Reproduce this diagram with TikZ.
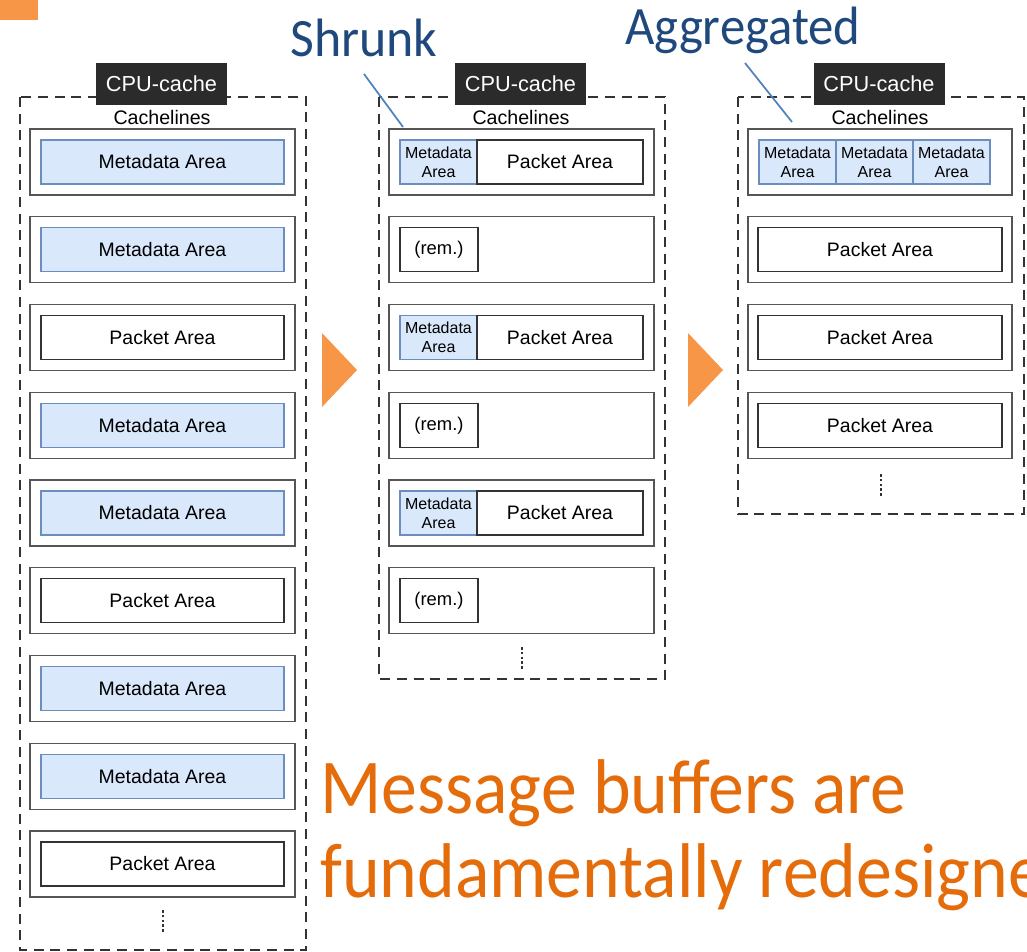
\documentclass[tikz,border=0pt]{standalone}
\usepackage{fontspec}
\setmainfont{Liberation Sans}
\newfontfamily\headfont{Carlito}
\usetikzlibrary{calc}

\definecolor{metafill}{HTML}{DAE8FC}
\definecolor{metaline}{HTML}{6C8EBF}
\definecolor{cachedark}{HTML}{2B2B2B}
\definecolor{slotline}{HTML}{555555}
\definecolor{innerline}{HTML}{333333}
\definecolor{accent}{HTML}{F79646}
\definecolor{headline}{HTML}{E46C0A}
\definecolor{labelblue}{HTML}{1F497D}
\definecolor{leaderblue}{HTML}{4F81BD}

\begin{document}
\begin{tikzpicture}[
  x=0.75pt, y=-0.75pt,
  cachearea/.style={draw=innerline, line width=0.9pt, dash pattern=on 7.5pt off 5pt},
  cachetag/.style={fill=cachedark, text=white, inner sep=0pt,
    minimum width=131*0.75pt, minimum height=42*0.75pt,
    font=\fontsize{16.3}{18}\selectfont},
  linesname/.style={inner sep=0pt, font=\fontsize{14.7}{16}\selectfont},
  slot/.style={draw=slotline, line width=1.1pt, fill=white, inner sep=0pt,
    minimum height=66*0.75pt},
  metabox/.style={draw=metaline, line width=0.8pt, fill=metafill, inner sep=0pt,
    minimum height=44*0.75pt},
  pktbox/.style={draw=innerline, line width=1pt, fill=white, inner sep=0pt,
    minimum height=44*0.75pt},
  bigfont/.style={font=\fontsize{14.6}{16}\selectfont},
  smallfont/.style={font=\fontsize{12}{14.2}\selectfont, align=center},
  remfont/.style={font=\fontsize{13.8}{15}\selectfont},
  morelines/.style={draw=innerline, line width=0.8pt, dash pattern=on 2pt off 1.6pt},
  nextstep/.style={fill=accent, draw=none},
  tagtext/.style={text=labelblue, inner sep=0pt, anchor=base west,
    font=\headfont\fontsize{40.5}{44}\selectfont},
  leader/.style={draw=leaderblue, line width=1.3pt},
  headtext/.style={text=headline, inner sep=0pt, anchor=base west,
    font=\headfont\fontsize{58.2}{63}\selectfont}
]
\useasboundingbox (0,0) rectangle (1027,952);
\clip (0,0) rectangle (1027,952);

% corner mark
\fill[accent] (0,0) rectangle (38,20);

% ---------- left column: one area per cacheline ----------
\draw[cachearea] (20,97) rectangle (306,950);
\node[cachetag] (cacheL) at (161.5,84) {CPU-cache};
\node[linesname] (linesL) at (162,117) {Cachelines};
\foreach \i in {1,2,4,5,7,8} {
  \pgfmathsetmacro\yy{162+87.75*(\i-1)}
  \node[slot, minimum width=265*0.75pt] (L\i) at (162.5,\yy) {};
  \node[metabox, bigfont, minimum width=243*0.75pt] (L\i-in) at (162.5,\yy) {Metadata Area};
}
\foreach \i in {3,6,9} {
  \pgfmathsetmacro\yy{162+87.75*(\i-1)}
  \node[slot, minimum width=265*0.75pt] (L\i) at (162.5,\yy) {};
  \node[pktbox, bigfont, minimum width=243*0.75pt] (L\i-in) at (162.5,\yy) {Packet Area};
}
\draw[morelines] (163,910) -- (163,932);

% ---------- middle column: shrunk metadata ----------
\draw[cachearea] (379,97) rectangle (665,679);
\node[cachetag] (cacheM) at (520.5,84) {CPU-cache};
\node[linesname] (linesM) at (521,117) {Cachelines};
\foreach \i in {1,3,5} {
  \pgfmathsetmacro\yy{162+87.75*(\i-1)}
  \node[slot, minimum width=265*0.75pt] (M\i) at (521.5,\yy) {};
  \node[metabox, smallfont, minimum width=77*0.75pt] (M\i-meta) at (438.5,\yy) {Metadata\\Area};
  \node[pktbox, bigfont, minimum width=166*0.75pt] (M\i-pkt) at (560,\yy) {Packet Area};
}
\foreach \i in {2,4,6} {
  \pgfmathsetmacro\yy{162+87.75*(\i-1)}
  \node[slot, minimum width=265*0.75pt] (M\i) at (521.5,\yy) {};
  \node[pktbox, remfont, minimum width=78*0.75pt] (M\i-rem) at (439,\yy) {(rem.)};
}
\draw[morelines] (522,647) -- (522,669);

% ---------- right column: aggregated metadata ----------
\draw[cachearea] (738,97) rectangle (1024,514);
\node[cachetag] (cacheR) at (879,84) {CPU-cache};
\node[linesname] (linesR) at (880,117) {Cachelines};
\node[slot, minimum width=264*0.75pt] (R1) at (880,162) {};
\foreach \j/\xx in {1/797.5,2/874.5,3/951.5} {
  \node[metabox, smallfont, minimum width=77*0.75pt] (R1-meta\j) at (\xx,162) {Metadata\\Area};
}
\foreach \i in {2,3,4} {
  \pgfmathsetmacro\yy{162+87.75*(\i-1)}
  \node[slot, minimum width=264*0.75pt] (R\i) at (880,\yy) {};
  \node[pktbox, bigfont, minimum width=244*0.75pt] (R\i-in) at (880,\yy) {Packet Area};
}
\draw[morelines] (881,474) -- (881,497);

% ---------- transition arrows ----------
\fill[accent] (322,333) -- (357,370) -- (322,407) -- cycle;
\fill[accent] (688,333) -- (723,370) -- (688,407) -- cycle;

% ---------- annotations ----------
\node[tagtext] (shrunk) at (290,57) {\scalebox{0.96}[1]{Shrunk}};
\coordinate (shrunkfrom) at (364,74);
\coordinate (shrunkto) at (403,127);
\draw[leader] (shrunkfrom) -- (shrunkto);

\node[tagtext] (aggr) at (625,45) {\scalebox{0.94}[1]{Aggregated}};
\coordinate (aggrfrom) at (745,63);
\coordinate (aggrto) at (792,122);
\draw[leader] (aggrfrom) -- (aggrto);

\node[headtext] (msg1) at (320,813) {\scalebox{0.925}[1]{Message buffers are}};
\node[headtext] (msg2) at (320,897) {\scalebox{0.925}[1]{fundamentally redesigned}};
\end{tikzpicture}
\end{document}
